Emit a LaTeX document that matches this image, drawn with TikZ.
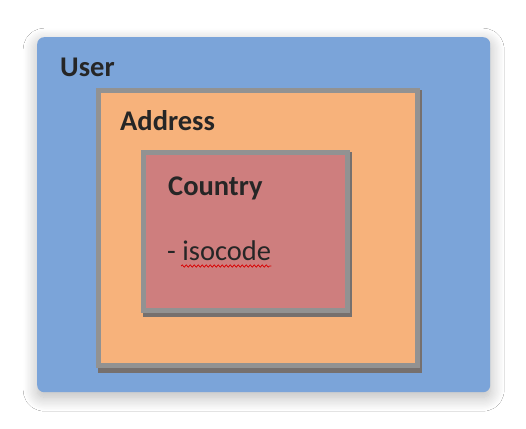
\documentclass[tikz,border=0pt]{standalone}
\usepackage{fontspec}
\setmainfont{Carlito}
\usepackage{tikz}
\usetikzlibrary{positioning,shadows.blur,decorations.pathmorphing}
\definecolor{userblue}{RGB}{123,164,217}
\definecolor{addrorange}{RGB}{247,178,123}
\definecolor{countryred}{RGB}{206,126,126}
\definecolor{edgegray}{RGB}{146,146,146}
\definecolor{dropgray}{RGB}{118,112,110}
\tikzset{
  outerbox/.style={fill=userblue,rounded corners=7pt,anchor=north west,inner sep=0pt,
    blur shadow={shadow xshift=0pt,shadow yshift=-5pt,shadow blur radius=14pt,
      shadow blur steps=12,shadow opacity=28}},
  nestbox/.style={draw=edgegray,line width=5pt,anchor=north west,inner sep=0pt},
  dropbox/.style={fill=dropgray,anchor=north west,inner sep=0pt},
  title/.style={font=\fontsize{28.5}{32}\selectfont\bfseries,anchor=base west,inner sep=0pt,text=black!85},
  entry/.style={font=\fontsize{28.5}{32}\selectfont,anchor=base west,inner sep=0pt,text=black!85}
}

\begin{document}
\begin{tikzpicture}[x=1pt,y=-1pt]
  \useasboundingbox (0,0) rectangle (526,428);
  \fill[white] (0,0) rectangle (526,428);
  \node[outerbox,minimum width=453pt,minimum height=355pt] (user) at (37,37) {};
  % address box with its drop shadow
  \node[dropbox,minimum width=324pt,minimum height=283pt] (addrdrop) at (98,90) {};
  \node[nestbox,fill=addrorange,minimum width=319pt,minimum height=275pt] (addr) at (95.5,87.5) {};
  % country box with its drop shadow
  \node[dropbox,minimum width=209pt,minimum height=165pt] (ctrydrop) at (143,152) {};
  \node[nestbox,fill=countryred,minimum width=204pt,minimum height=158pt] (ctry) at (140.5,149.5) {};
  \node[title] (usertxt) at (60,76) {User};
  \node[title] (addrtxt) at (120,130) {Address};
  \node[title] (ctrytxt) at (168,195) {Country};
  \node[entry] (iso) at (167,260) {- isocode};
  \draw[red!85!black,line width=0.7pt,decorate,decoration={snake,amplitude=1.2pt,segment length=4pt}]
    (181,266) -- (iso.base east |- 0,266);
\end{tikzpicture}
\end{document}
